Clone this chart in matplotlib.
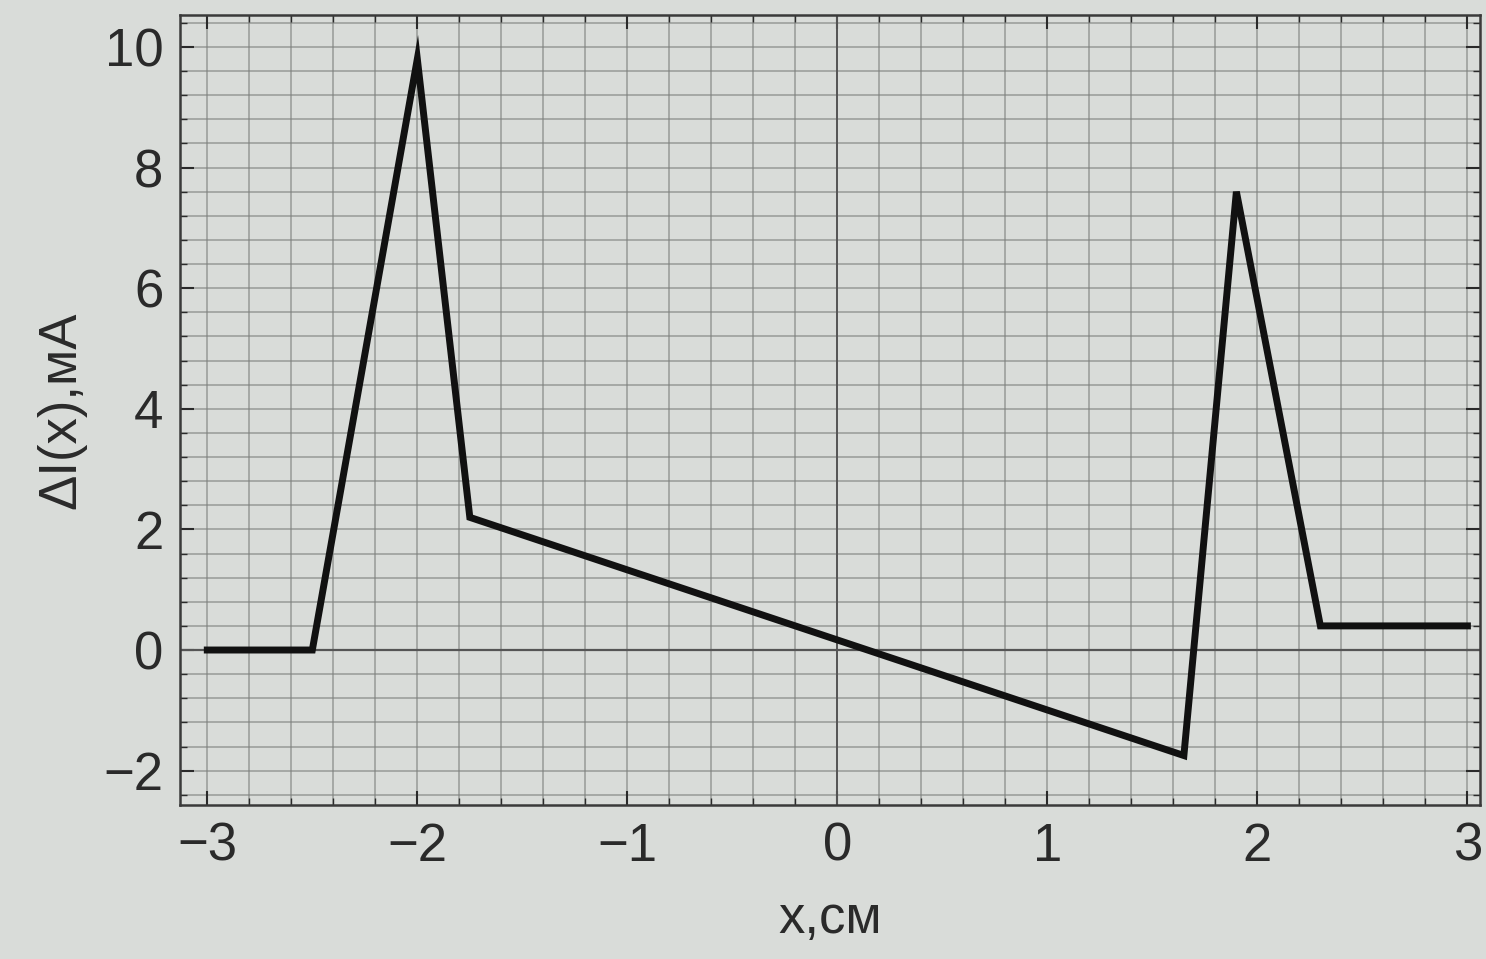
import numpy as np
import matplotlib
matplotlib.use("Agg")
import matplotlib.pyplot as plt
from matplotlib.ticker import MultipleLocator

x_cm = [-3.0, -2.5, -2.0, -1.75, 1.65, 1.9, 2.3, 3.0]
dI_mA = [0.0, 0.0, 9.8, 2.2, -1.75, 7.6, 0.4, 0.4]
x_ticks = [-3, -2, -1, 0, 1, 2, 3]
y_ticks = [-2, 0, 2, 4, 6, 8, 10]

paper = "#d9dcd9"
ink = "#2a2a2a"

plt.rcParams["font.family"] = ["Liberation Sans", "DejaVu Sans"]

fig = plt.figure(figsize=(14.86, 9.59), dpi=100, facecolor=paper)
ax = fig.add_axes([180 / 1486, 1 - 805 / 959, 1300 / 1486, 790 / 959])
ax.set_facecolor(paper)

ax.set_xlim(-3.13, 3.06)
ax.set_ylim(-2.57, 10.53)

# graph-paper style grid
for gx in np.arange(-3.0, 3.01, 0.2):
    ax.axvline(gx, color="#7c7f7c", lw=1.3, alpha=0.6, zorder=1)
for gy in np.arange(-2.4, 10.41, 0.4):
    ax.axhline(gy, color="#7c7f7c", lw=1.3, alpha=0.6, zorder=1)
ax.axvline(0, color="#555", lw=1.4, zorder=2)
ax.axhline(0, color="#555", lw=1.6, zorder=2)

ax.plot(x_cm, dI_mA, color="#111111", lw=5, solid_joinstyle="miter", zorder=5)

ax.set_xticks(x_ticks)
ax.set_yticks(y_ticks)
ax.set_xticklabels(["\u2212" + str(-t) if t < 0 else str(t) for t in x_ticks])
ax.set_yticklabels(["\u2212" + str(-t) if t < 0 else str(t) for t in y_ticks])
ax.xaxis.set_minor_locator(MultipleLocator(0.2))
ax.yaxis.set_minor_locator(MultipleLocator(0.4))
ax.tick_params(which="both", direction="in", top=True, right=True,
               color=ink, labelcolor=ink, labelsize=38)
ax.tick_params(which="major", length=10, width=1.5, pad=12)
ax.tick_params(which="minor", length=5, width=1.0)
for s in ax.spines.values():
    s.set_color("#3a3a3a")
    s.set_linewidth(1.8)

ax.set_xlabel("x,см", fontsize=38, color=ink, labelpad=16)
ax.set_ylabel("ΔI(x),мА", fontsize=38, color=ink, labelpad=12)

fig.savefig("out.png", dpi=100, facecolor=paper)
